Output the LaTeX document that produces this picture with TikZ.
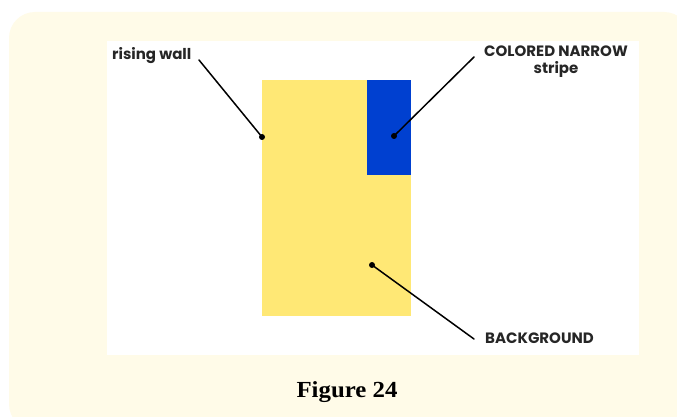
\documentclass[tikz,border=0pt]{standalone}
\usepackage{fontspec}
\setmainfont{Liberation Serif}
\newfontfamily\labelfont{Poppins}
\definecolor{cream}{HTML}{FFFBE8}
\definecolor{wallyellow}{HTML}{FFE875}
\definecolor{stripeblue}{HTML}{0040D0}
\begin{document}
\begin{tikzpicture}[x=1pt,y=-1pt,
  lbl/.style={font=\labelfont\fontsize{15}{17}\selectfont\bfseries, text=black!85, inner sep=0pt},
  leader/.style={draw=black, line width=1.5pt, line cap=round},
  dot/.style={circle, fill=black, inner sep=0pt, minimum size=6pt}]
\useasboundingbox (0,0) rectangle (677,417);
\fill[white] (0,0) rectangle (677,417);
\fill[cream, rounded corners=26pt] (9,12) rectangle (690,430);
\fill[white] (107,41) rectangle (639,355);
\fill[wallyellow] (262,80) rectangle (411,316);
\fill[stripeblue] (367,80) rectangle (411,175);
\node[dot] (d1) at (262,137) {};
\node[dot] (d2) at (394,136) {};
\node[dot] (d3) at (372,265) {};
\coordinate (e1) at (199,60);
\coordinate (e2) at (474,57);
\coordinate (e3) at (474,339);
\draw[leader] (e1) -- (d1.center);
\draw[leader] (e2) -- (d2.center);
\draw[leader] (e3) -- (d3.center);
\node[lbl, anchor=west] (t1) at (112,56) {rising wall};
\node[lbl, align=center, anchor=north] (t2) at (556,46) {COLORED NARROW\\[0pt]stripe};
\node[lbl, anchor=west] (t3) at (485,338) {BACKGROUND};
\node[font=\fontsize{23}{26}\selectfont\bfseries, xscale=1.08] (cap) at (347,392) {Figure 24};
\end{tikzpicture}
\end{document}
